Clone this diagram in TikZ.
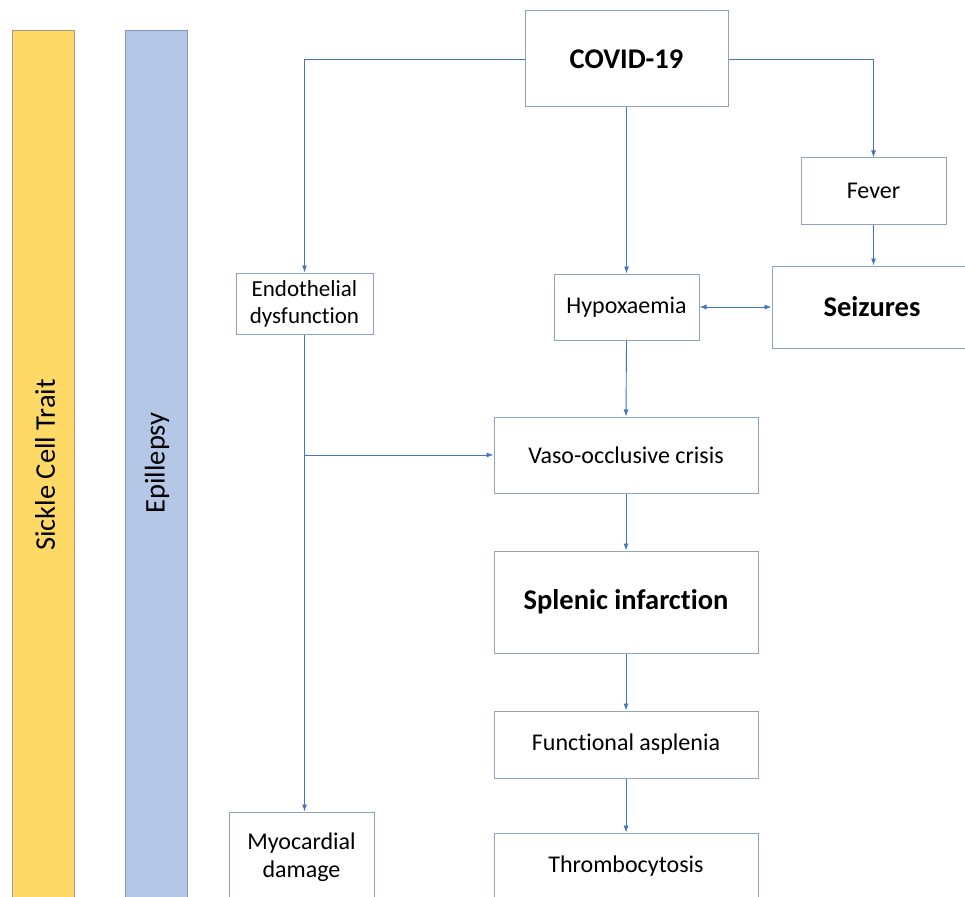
\documentclass[tikz,border=0pt]{standalone}
\usepackage{fontspec}
\setmainfont{Carlito}[RawFeature=-liga]
\usetikzlibrary{arrows.meta}
\definecolor{conn}{HTML}{4472C4}
\definecolor{boxline}{HTML}{8EA3BE}
\definecolor{ybar}{HTML}{FFD966}
\definecolor{ybarline}{HTML}{A09A80}
\definecolor{bbar}{HTML}{B4C7E7}
\definecolor{bbarline}{HTML}{7F96C5}
\tikzset{
  fbox/.style={draw=boxline, line width=1pt, fill=white, rectangle, inner sep=0pt, align=center, font=\fontsize{24}{28}\selectfont},
  bigbox/.style={fbox, font=\fontsize{28.5}{32}\selectfont\bfseries},
  link/.style={draw=conn, line width=0.9pt, -{Latex[length=7pt,width=5pt]}},
  plain/.style={draw=conn, line width=0.9pt},
  bar/.style={rectangle, inner sep=0pt, line width=1pt, minimum width=62pt, minimum height=880pt}
}
\begin{document}
\begin{tikzpicture}[x=1pt,y=-1pt]
\useasboundingbox (0,0) rectangle (965,896);
\clip (0,0) rectangle (965,896);
\fill[white] (0,0) rectangle (965,896);
% side bars
\node[bar, fill=ybar, draw=ybarline, anchor=north] (sct) at (43,30) {};
\node[bar, fill=bbar, draw=bbarline, anchor=north] (epi) at (156,30) {};
\node[rotate=90, font=\fontsize{28.5}{32}\selectfont] (sctl) at (45,465) {Sickle Cell Trait};
\node[rotate=90, font=\fontsize{28.5}{32}\selectfont] (epil) at (157,463) {Epillepsy};
% boxes
\node[bigbox, minimum width=203pt, minimum height=96pt] (covid) at (626.5,59) {COVID-19};
\node[fbox, minimum width=145pt, minimum height=66pt] (fever) at (873.5,191) {Fever};
\node[bigbox, minimum width=200pt, minimum height=82pt] (seiz) at (872,307) {Seizures};
\node[fbox, minimum width=145pt, minimum height=66pt] (hyp) at (626.5,307) {Hypoxaemia};
\node[fbox, minimum width=137pt, minimum height=61pt, font=\fontsize{23}{27}\selectfont] (endo) at (304.5,303.5) {Endothelial\\dysfunction};
\node[fbox, minimum width=264pt, minimum height=76pt] (vaso) at (626,455) {Vaso-occlusive crisis};
\node[bigbox, minimum width=264pt, minimum height=102pt] (spl) at (626,602) {Splenic infarction};
\node[fbox, minimum width=264pt, minimum height=67pt] (asp) at (626,744.5) {Functional asplenia};
\node[fbox, minimum width=264pt, minimum height=66pt] (thr) at (626,866) {Thrombocytosis};
\node[fbox, minimum width=145pt, minimum height=90pt, font=\fontsize{24}{28}\selectfont] (myo) at (301.5,857) {Myocardial\\damage};
% connectors
\draw[link] (covid.west) -| (endo.north);
\draw[link] (covid.east) -| (fever.north);
\draw[link] (covid.south) -- (hyp.north);
\draw[link] (fever.south) -- (fever.south |- seiz.north);
\draw[plain, {Latex[length=7pt,width=5pt]}-{Latex[length=7pt,width=5pt]}] (hyp.east) -- (seiz.west);
\draw[link] (hyp.south) -- (vaso.north);
\draw[link] (endo.south) -- (endo.south |- myo.north);
\coordinate (br) at (endo.south |- vaso.west);
\draw[link] (br) -- (vaso.west);
\draw[link] (vaso.south) -- (spl.north);
\draw[link] (spl.south) -- (asp.north);
\draw[link] (asp.south) -- (thr.north);
\end{tikzpicture}
\end{document}
